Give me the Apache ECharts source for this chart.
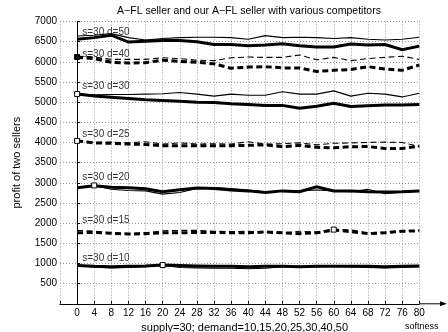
<!DOCTYPE html>
<html><head><meta charset="utf-8">
<script src="https://cdn.jsdelivr.net/npm/echarts@6/dist/echarts.min.js"></script>
<style>html,body{margin:0;padding:0;background:#fff}#c{width:448px;height:332px}</style>
</head><body><div id="c"></div>
<script>
const softness = [0,4,8,12,16,20,24,28,32,36,40,44,48,52,56,60,64,68,72,76,80];
const yTicks = [500,1000,1500,2000,2500,3000,3500,4000,4500,5000,5500,6000,6500,7000];
const d50Thin  = [6640,6660,6700,6600,6540,6580,6600,6610,6610,6600,6560,6650,6600,6610,6600,6580,6600,6560,6540,6560,6610];
const d50Thick = [6560,6600,6660,6490,6510,6530,6530,6500,6430,6430,6400,6420,6450,6400,6370,6370,6440,6420,6430,6300,6390];
const d40Thin  = [6140,6120,6060,6060,6060,6100,6080,6040,6030,6100,6120,6110,6110,6170,6050,6110,6030,6080,6110,6140,6060];
const d40Thick = [6110,6080,5990,5970,5980,6040,6010,5990,5950,5840,5870,5880,5850,5850,5760,5790,5810,5880,5820,5790,5920];
const d30Thin  = [5200,5180,5190,5190,5200,5210,5240,5200,5150,5200,5170,5170,5260,5200,5200,5280,5150,5220,5200,5130,5220];
const d30Thick = [5200,5150,5120,5090,5060,5040,5020,5000,4990,4960,4940,4920,4920,4850,4900,4970,4890,4910,4930,4930,4940];
const d25Thin  = [4040,4000,4010,3990,4020,3960,3990,3960,3970,3960,4020,3960,3970,3990,3940,3980,3990,4000,4010,4000,3900];
const d25Thick = [4040,3990,3980,3960,3950,3920,3920,3920,3920,3920,3930,3940,3895,3930,3880,3870,3895,3900,3850,3850,3910];
const d20Thin  = [2880,2930,2840,2810,2800,2720,2760,2860,2880,2860,2820,2780,2790,2800,2820,2800,2780,2840,2730,2770,2790];
const d20Thick = [2880,2930,2890,2880,2850,2780,2830,2870,2860,2820,2800,2760,2800,2780,2900,2800,2800,2780,2770,2780,2800];
const d15Thin  = [1820,1800,1760,1740,1760,1810,1820,1820,1800,1790,1800,1770,1750,1800,1780,1850,1830,1760,1780,1810,1820];
const d15Thick = [1760,1770,1750,1730,1740,1760,1760,1770,1770,1760,1760,1780,1760,1740,1760,1830,1790,1740,1760,1800,1810];
const d10Thin  = [950,910,890,900,920,960,900,890,880,880,870,880,920,930,920,930,920,900,890,900,920];
const d10Thick = [950,930,920,930,940,960,950,940,930,930,920,930,930,920,930,930,930,930,920,930,940];
const markerX = [0,0,0,4,60,20];
const markerY = [6120,5200,4040,2935,1840,960];
const markerFilled = [true,false,false,false,false,false];
const annoText = ['s=30 d=50','s=30 d=40','s=30 d=30','s=30 d=25','s=30 d=20','s=30 d=15','s=30 d=10'];
const annoX = [1.2,1.2,1.2,1.2,1.2,1.2,1.2];
const annoY = [6730,6190,5390,4200,3130,2080,1125];

const FONT = 'Liberation Sans';
const pair = (a) => softness.map((x,i)=>[x,a[i]]);
const groups = [
  [d50Thin,d50Thick,'solid'],[d40Thin,d40Thick,'dash'],[d30Thin,d30Thick,'solid'],
  [d25Thin,d25Thick,'dash'],[d20Thin,d20Thick,'solid'],[d15Thin,d15Thick,'dash'],[d10Thin,d10Thick,'solid']
];
const series = [];
groups.forEach(g=>{
  const dash = g[2]==='dash';
  series.push({type:'line',data:pair(g[1]),symbol:'none',silent:true,
    lineStyle:{color:'#000',width:3,type:dash?[6,3.5]:'solid',cap:'butt',join:'miter'}});
  series.push({type:'line',data:pair(g[0]),symbol:'none',silent:true,
    lineStyle:{color:'#000',width:1.1,type:dash?[6,3.5]:'solid'}});
});
series.push({type:'scatter',symbol:'rect',symbolSize:5,z:5,silent:true,
  data:markerX.map((x,i)=>({value:[x,markerY[i]],itemStyle:{color:markerFilled[i]?'#000':'#fff',borderColor:'#000',borderWidth:1,opacity:1}}))});
series.push({type:'scatter',symbolSize:0,z:6,silent:true,
  data:annoX.map((x,i)=>({value:[x,annoY[i]],name:annoText[i]})),
  label:{show:true,position:'right',distance:0,formatter:p=>p.name,color:'#000',fontFamily:FONT,fontSize:10}});

const chart = echarts.init(document.getElementById('c'),null,{renderer:'canvas'});
chart.setOption({
  animation:false,
  backgroundColor:'#fff',
  title:{text:'A\u2212FL seller and our A\u2212FL seller with various competitors',left:244,top:1,textAlign:'center',
    textStyle:{fontFamily:FONT,fontSize:10.5,fontWeight:'normal',color:'#000'}},
  grid:{left:60,right:28.7,top:21.5,bottom:28.2,containLabel:false,outerBoundsMode:'none'},
  xAxis:{type:'value',min:-4,max:80,interval:4,
    name:'supply=30; demand=10,15,20,25,30,40,50',nameLocation:'middle',nameGap:16,
    nameTextStyle:{fontFamily:FONT,fontSize:11,color:'#000',padding:[0,0,0,10]},
    axisLine:{lineStyle:{color:'#000',width:1}},
    axisTick:{inside:true,length:3,lineStyle:{color:'#000'}},
    axisLabel:{formatter:v=>v>=0?String(v):'',fontFamily:FONT,fontSize:10,color:'#000',margin:4},
    splitLine:{show:true,lineStyle:{color:'#999',type:[1,2],width:1}}},
  yAxis:{type:'value',min:0,max:7000,interval:500,
    name:'profit of two sellers',nameLocation:'middle',nameGap:38,
    nameTextStyle:{fontFamily:FONT,fontSize:11,color:'#000'},
    axisLine:{show:true,lineStyle:{color:'#000',width:1}},
    axisTick:{show:true,inside:true,length:3,lineStyle:{color:'#000'}},
    axisLabel:{formatter:v=>v===0?'':String(v),fontFamily:FONT,fontSize:10,color:'#000',margin:3},
    splitLine:{show:true,lineStyle:{color:'#999',type:[1,2],width:1}}},
  graphic:[
    {type:'line',shape:{x1:419,y1:303.8,x2:444,y2:303.8},style:{stroke:'#000',lineWidth:1}},
    {type:'polygon',shape:{points:[[447,303.8],[440,301.3],[440,306.3]]},style:{fill:'#000'}},
    {type:'text',left:405,top:322,style:{text:'softness',font:'9px "Liberation Sans"',fill:'#000'}}
  ],
  series:series
});
</script></body></html>
